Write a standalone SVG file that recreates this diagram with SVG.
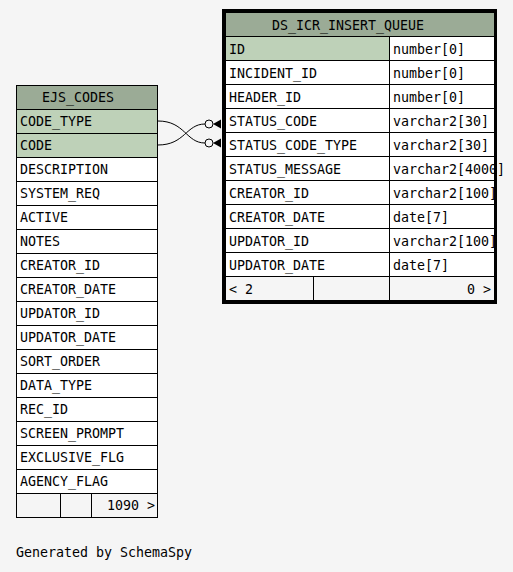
<svg xmlns="http://www.w3.org/2000/svg" width="513" height="572" viewBox="0 0 513 572">
<defs>
<style>
text{font-family:"DejaVu Sans Mono","Liberation Mono",monospace;font-size:13.3px;fill:#000}
.hd{fill:#9bab96;stroke:#000;stroke-width:1}
.key{fill:#bed1b8;stroke:#000;stroke-width:1}
.cell{fill:#fff;stroke:#000;stroke-width:1}
.ft{fill:#f5f5f5;stroke:#000;stroke-width:1}
.edge{fill:none;stroke:#000;stroke-width:1}
.end{text-anchor:end}
</style>
</defs>
<rect x="0" y="0" width="513" height="572" fill="#f5f5f5"/>

<g id="EJS_CODES">
<rect class="hd" x="16.5" y="85.5" width="141" height="24"/>
<text x="42" y="101.7">EJS_CODES</text>
<rect class="key" x="16.5" y="109.5" width="141" height="24"/>
<text x="20" y="126">CODE_TYPE</text>
<rect class="key" x="16.5" y="133.5" width="141" height="24"/>
<text x="20" y="150">CODE</text>
<rect class="cell" x="16.5" y="157.5" width="141" height="24"/>
<text x="20" y="174">DESCRIPTION</text>
<rect class="cell" x="16.5" y="181.5" width="141" height="24"/>
<text x="20" y="198">SYSTEM_REQ</text>
<rect class="cell" x="16.5" y="205.5" width="141" height="24"/>
<text x="20" y="222">ACTIVE</text>
<rect class="cell" x="16.5" y="229.5" width="141" height="24"/>
<text x="20" y="246">NOTES</text>
<rect class="cell" x="16.5" y="253.5" width="141" height="24"/>
<text x="20" y="270">CREATOR_ID</text>
<rect class="cell" x="16.5" y="277.5" width="141" height="24"/>
<text x="20" y="294">CREATOR_DATE</text>
<rect class="cell" x="16.5" y="301.5" width="141" height="24"/>
<text x="20" y="318">UPDATOR_ID</text>
<rect class="cell" x="16.5" y="325.5" width="141" height="24"/>
<text x="20" y="342">UPDATOR_DATE</text>
<rect class="cell" x="16.5" y="349.5" width="141" height="24"/>
<text x="20" y="366">SORT_ORDER</text>
<rect class="cell" x="16.5" y="373.5" width="141" height="24"/>
<text x="20" y="390">DATA_TYPE</text>
<rect class="cell" x="16.5" y="397.5" width="141" height="24"/>
<text x="20" y="414">REC_ID</text>
<rect class="cell" x="16.5" y="421.5" width="141" height="24"/>
<text x="20" y="438">SCREEN_PROMPT</text>
<rect class="cell" x="16.5" y="445.5" width="141" height="24"/>
<text x="20" y="462">EXCLUSIVE_FLG</text>
<rect class="cell" x="16.5" y="469.5" width="141" height="24"/>
<text x="20" y="486">AGENCY_FLAG</text>
<rect class="ft" x="16.5" y="493.5" width="44" height="24"/>
<rect class="ft" x="60.5" y="493.5" width="31" height="24"/>
<rect class="ft" x="91.5" y="493.5" width="66" height="24"/>
<text class="end" x="155" y="510">1090 &gt;</text>
</g>

<g id="DS_ICR_INSERT_QUEUE">
<rect class="hd" x="225.5" y="12.5" width="269" height="24"/>
<text x="272" y="30">DS_ICR_INSERT_QUEUE</text>
<rect class="key" x="225.5" y="36.5" width="164" height="24"/>
<rect class="cell" x="389.5" y="36.5" width="105" height="24"/>
<text x="229" y="54">ID</text><text x="393" y="54">number[0]</text>
<rect class="cell" x="225.5" y="60.5" width="164" height="24"/>
<rect class="cell" x="389.5" y="60.5" width="105" height="24"/>
<text x="229" y="78">INCIDENT_ID</text><text x="393" y="78">number[0]</text>
<rect class="cell" x="225.5" y="84.5" width="164" height="24"/>
<rect class="cell" x="389.5" y="84.5" width="105" height="24"/>
<text x="229" y="102">HEADER_ID</text><text x="393" y="102">number[0]</text>
<rect class="cell" x="225.5" y="108.5" width="164" height="24"/>
<rect class="cell" x="389.5" y="108.5" width="105" height="24"/>
<text x="229" y="126">STATUS_CODE</text><text x="393" y="126">varchar2[30]</text>
<rect class="cell" x="225.5" y="132.5" width="164" height="24"/>
<rect class="cell" x="389.5" y="132.5" width="105" height="24"/>
<text x="229" y="150">STATUS_CODE_TYPE</text><text x="393" y="150">varchar2[30]</text>
<rect class="cell" x="225.5" y="156.5" width="164" height="24"/>
<rect class="cell" x="389.5" y="156.5" width="105" height="24"/>
<text x="229" y="174">STATUS_MESSAGE</text><text x="393" y="174">varchar2[4000]</text>
<rect class="cell" x="225.5" y="180.5" width="164" height="24"/>
<rect class="cell" x="389.5" y="180.5" width="105" height="24"/>
<text x="229" y="198">CREATOR_ID</text><text x="393" y="198">varchar2[100]</text>
<rect class="cell" x="225.5" y="204.5" width="164" height="24"/>
<rect class="cell" x="389.5" y="204.5" width="105" height="24"/>
<text x="229" y="222">CREATOR_DATE</text><text x="393" y="222">date[7]</text>
<rect class="cell" x="225.5" y="228.5" width="164" height="24"/>
<rect class="cell" x="389.5" y="228.5" width="105" height="24"/>
<text x="229" y="246">UPDATOR_ID</text><text x="393" y="246">varchar2[100]</text>
<rect class="cell" x="225.5" y="252.5" width="164" height="24"/>
<rect class="cell" x="389.5" y="252.5" width="105" height="24"/>
<text x="229" y="270">UPDATOR_DATE</text><text x="393" y="270">date[7]</text>
<rect class="ft" x="225.5" y="276.5" width="88" height="24"/>
<rect class="ft" x="313.5" y="276.5" width="76" height="24"/>
<rect class="ft" x="389.5" y="276.5" width="105" height="24"/>
<text x="229" y="294">&lt; 2</text>
<text class="end" x="491" y="294">0 &gt;</text>
<rect x="223.5" y="10.5" width="272" height="292" fill="none" stroke="#000" stroke-width="3"/>
</g>

<g id="connectors">
<path class="edge" d="M158,121 C185,121 186,143 205,143"/>
<path class="edge" d="M158,145 C185,145 186,124 205,124"/>
<circle class="edge" cx="209" cy="124" r="4"/>
<circle class="edge" cx="209" cy="143" r="4"/>
<polygon points="213,124 221,119.5 221,128.5" fill="#000"/>
<polygon points="213,143 221,138.5 221,147.5" fill="#000"/>
</g>

<text x="16" y="557">Generated by SchemaSpy</text>
</svg>
